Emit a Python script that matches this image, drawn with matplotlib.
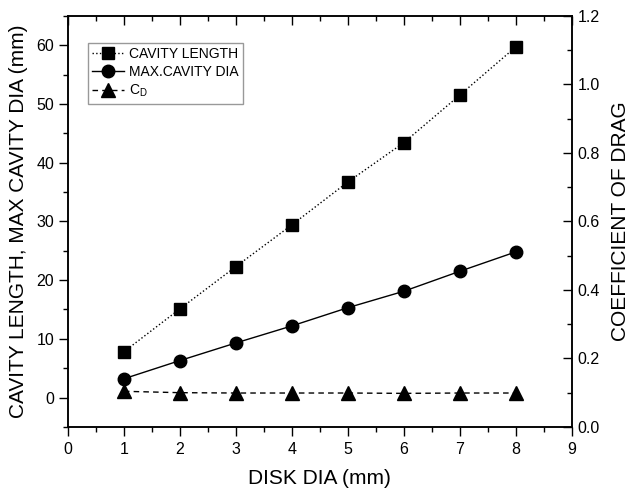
import matplotlib
matplotlib.use("Agg")
import matplotlib.pyplot as plt
from matplotlib.ticker import MultipleLocator, FormatStrFormatter

plt.rcParams['font.family'] = ['Liberation Sans', 'DejaVu Sans']
plt.rcParams['mathtext.fontset'] = 'custom'
plt.rcParams['mathtext.rm'] = 'Liberation Sans'
plt.rcParams['mathtext.it'] = 'Liberation Sans'

disk_dia = [1, 2, 3, 4, 5, 6, 7, 8]
cavity_length = [7.8, 15.1, 22.3, 29.4, 36.7, 43.4, 51.5, 59.7]
max_cavity_dia = [3.2, 6.3, 9.3, 12.2, 15.3, 18.1, 21.5, 24.8]
cd = [0.104, 0.100, 0.099, 0.099, 0.099, 0.098, 0.099, 0.099]

fig = plt.figure(figsize=(6.29, 4.93), dpi=100)
ax = fig.add_axes([0.108, 0.134, 0.801, 0.834])
ax2 = ax.twinx()

l1, = ax.plot(disk_dia, cavity_length, color='black', linestyle=':', linewidth=1,
              marker='s', markersize=8.5, label='CAVITY LENGTH')
l2, = ax.plot(disk_dia, max_cavity_dia, color='black', linestyle='-', linewidth=1,
              marker='o', markersize=9, label='MAX.CAVITY DIA')
l3, = ax2.plot(disk_dia, cd, color='black', linestyle='--', linewidth=1,
               dashes=(4, 3), marker='^', markersize=10, label='C$_{\\mathrm{D}}$')

ax.set_xlim(0, 9)
ax.set_ylim(-5, 65)
ax2.set_ylim(0, 1.2)

ax.xaxis.set_major_locator(MultipleLocator(1))
ax.xaxis.set_minor_locator(MultipleLocator(0.5))
ax.yaxis.set_major_locator(MultipleLocator(10))
ax.yaxis.set_minor_locator(MultipleLocator(5))
ax2.yaxis.set_major_locator(MultipleLocator(0.2))
ax2.yaxis.set_minor_locator(MultipleLocator(0.1))
ax2.yaxis.set_major_formatter(FormatStrFormatter('%.1f'))

ax.tick_params(axis='x', which='both', direction='out', top=True, labelsize=11.5, pad=4)
ax.tick_params(axis='x', which='major', length=6.5, width=1)
ax.tick_params(axis='x', which='minor', length=3.5, width=1)
ax.tick_params(axis='y', which='major', direction='out', length=6.5, width=1,
               labelsize=11.5, pad=3.5)
ax.tick_params(axis='y', which='minor', direction='out', length=3.5, width=1)
ax2.tick_params(axis='y', which='major', direction='in', length=6.5, width=1,
                labelsize=11.5, pad=4)
ax2.tick_params(axis='y', which='minor', direction='in', length=3.5, width=1)

# top ticks point inward
for t in ax.xaxis.get_major_ticks() + ax.xaxis.get_minor_ticks():
    t.tick2line.set_marker(matplotlib.lines.TICKDOWN)

for a in (ax, ax2):
    for s in a.spines.values():
        s.set_linewidth(1.1)

ax.set_xlabel('DISK DIA (mm)', fontsize=15, labelpad=9)
ax.set_ylabel('CAVITY LENGTH, MAX CAVITY DIA (mm)', fontsize=15, labelpad=6)
ax2.set_ylabel('COEFFICIENT OF DRAG', fontsize=15, labelpad=8)

leg = ax.legend(handles=[l1, l2, l3], loc='upper left', bbox_to_anchor=(0.04, 0.935),
                fontsize=10, frameon=True, fancybox=False, edgecolor='#808080',
                handlelength=2.3, handletextpad=0.35, borderpad=0.3, labelspacing=0.3,
                borderaxespad=0)
leg.get_frame().set_linewidth(1)

fig.savefig('out.png', dpi=100)
